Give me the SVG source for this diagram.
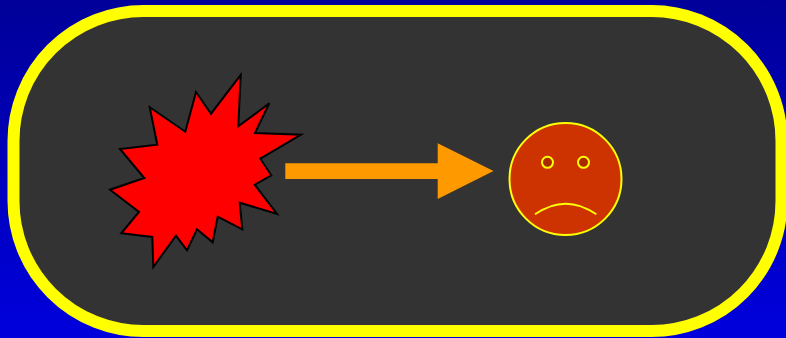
<svg xmlns="http://www.w3.org/2000/svg" width="786" height="338" viewBox="0 0 786 338">
  <defs>
    <linearGradient id="bg" x1="0" y1="0" x2="0" y2="1">
      <stop offset="0" stop-color="#000099"/>
      <stop offset="1" stop-color="#0000dd"/>
    </linearGradient>
  </defs>
  <style>
    .face { fill: #cc3300; stroke: #ffff00; stroke-width: 2; }
    .eye { fill: #aa2a00; stroke: #ffff00; stroke-width: 2; }
  </style>
  <rect width="786" height="338" fill="url(#bg)"/>
  <g id="panel">
    <rect x="13.5" y="11" width="768" height="320" rx="130" ry="130" fill="#333333" stroke="#ffff00" stroke-width="12"/>
  </g>
  <g id="burst">
    <polygon points="240.7,75 238.3,126.3 269.3,103.3 255,133 301,134.7 260.3,158.7 271.3,175.3 254.7,184.7 277,214 239.7,202.7 242.3,229.3 217.7,216.7 212.7,242.3 197,229.3 187,250.3 176,235.7 153.3,267 152.3,237 121.3,233.3 139,212 110,189.7 144.3,178 120,149 157.3,144.7 149.7,107.3 185.3,131.7 196,92 211,113.7" fill="#ff0000" stroke="#000000" stroke-width="2" stroke-linejoin="miter"/>
  </g>
  <g id="connectors">
    <polygon points="285.3,163.3 437.7,163.3 437.7,143.3 493.5,171 437.7,199 437.7,179 285.3,179" fill="#ff9900"/>
  </g>
  <g id="face">
    <circle class="face" cx="565.5" cy="179" r="56"/>
    <circle class="eye" cx="547.5" cy="162.3" r="5.5"/>
    <circle class="eye" cx="583.5" cy="162.3" r="5.5"/>
    <path d="M535 214.3 Q565.7 193 596.3 214.3" fill="none" stroke="#ffff00" stroke-width="2"/>
  </g>
</svg>
